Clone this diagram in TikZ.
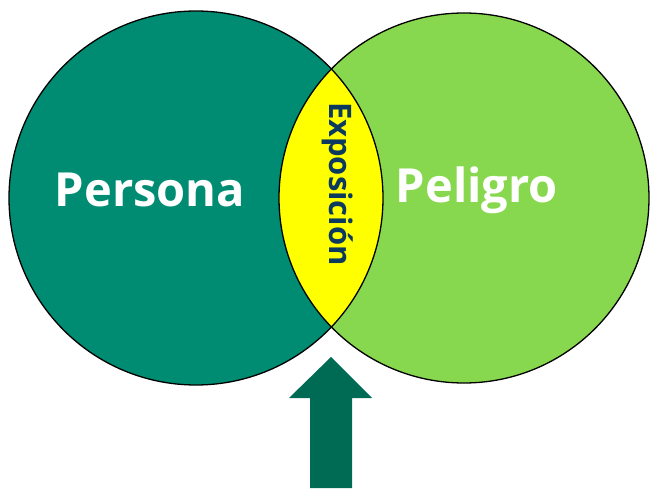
\documentclass[tikz,border=0pt]{standalone}
\usepackage{fontspec}
\setmainfont{Open Sans}
\definecolor{persona}{HTML}{008C72}
\definecolor{peligro}{HTML}{88D84F}
\definecolor{expo}{HTML}{FFFF00}
\definecolor{flecha}{HTML}{006B54}
\definecolor{azul}{HTML}{0B3A5E}
\tikzset{
  borde/.style={draw=black, line width=1.3pt},
  titulo/.style={text=white, font=\fontsize{47}{50}\selectfont\bfseries}
}

\begin{document}
\begin{tikzpicture}[x=1pt,y=1pt]
    \useasboundingbox (0,0) rectangle (651,488);
    \coordinate (L) at (196,290);
    \coordinate (R) at (464,290);
    \coordinate (F0) at (331,131);
    \coordinate (F1) at (372,90);
    \coordinate (F2) at (352,90);
    \coordinate (F3) at (352,0);
    \coordinate (F4) at (310,0);
    \coordinate (F5) at (310,90);
    \coordinate (F6) at (289,90);
      \fill[persona] (L) circle (187pt);
      \fill[peligro] (R) circle (185pt);
      \begin{scope}
        \clip (L) circle (187pt);
        \fill[expo] (R) circle (185pt);
      \end{scope}
      \draw[borde] (L) circle (187pt);
      \draw[borde] (R) circle (185pt);
      \fill[flecha] (F0) -- (F1) -- (F2) -- (F3)
        -- (F4) -- (F5) -- (F6) -- cycle;
      \node[titulo] (persona) at (150,298) {Persona};
      \node[titulo] (peligro) at (477,298) {Peligro};
      \node[text=azul, rotate=-90, font=\fontsize{31}{34}\selectfont\bfseries]
        (exposicion) at (338,304) {Exposición};
  \end{tikzpicture}
\end{document}
